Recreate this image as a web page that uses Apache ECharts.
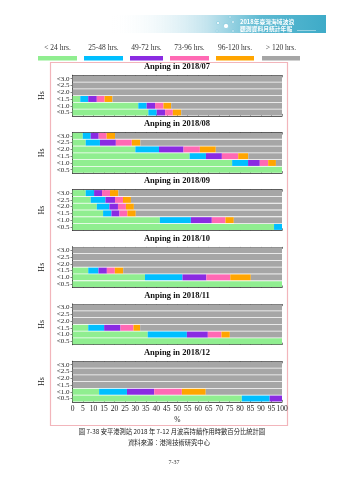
<!DOCTYPE html>
<html><head><meta charset="utf-8">
<script src="https://cdn.jsdelivr.net/npm/echarts@6/dist/echarts.min.js"></script>
<style>html,body{margin:0;padding:0;background:#fff}#c{width:339px;height:480px}</style>
</head><body><div id="c"></div>
<script>
// Categories (bottom to top)
const hsCats = ['<0.5', '<1.0', '<1.5', '<2.0', '<2.5', '<3.0'];
const months = ['2018/07', '2018/08', '2018/09', '2018/10', '2018/11', '2018/12'];
const durationNames = ['< 24 hrs.', '25-48 hrs.', '49-72 hrs.', '73-96 hrs.', '96-120 hrs.', '> 120 hrs.'];
const xTicks = [0, 5, 10, 15, 20, 25, 30, 35, 40, 45, 50, 55, 60, 65, 70, 75, 80, 85, 90, 95, 100];

// Percent values per month (rows) per Hs class (bottom <0.5 ... top <3.0)
const lt24 = [
  [36.2, 31.4, 3.7, 0, 0, 0],
  [100, 76.2, 55.9, 30.0, 6.3, 4.9],
  [96.2, 41.7, 14.6, 11.6, 8.7, 6.3],
  [100, 34.6, 7.5, 0, 0, 0],
  [100, 35.9, 7.5, 0, 0, 0],
  [80.8, 12.7, 0, 0, 0, 0]
];
const h25to48 = [
  [4.0, 4.0, 3.8, 0, 0, 0],
  [0, 7.6, 7.8, 11.3, 6.8, 3.8],
  [3.8, 14.8, 4.0, 6.0, 7.0, 4.0],
  [0, 17.9, 4.9, 0, 0, 0],
  [0, 18.7, 7.6, 0, 0, 0],
  [13.3, 13.3, 0, 0, 0, 0]
];
const h49to72 = [
  [4.0, 4.0, 4.1, 0, 0, 0],
  [0, 5.6, 7.6, 11.7, 7.6, 3.8],
  [0, 10.0, 3.8, 4.1, 4.6, 3.8],
  [0, 11.4, 4.0, 0, 0, 0],
  [0, 10.0, 7.8, 0, 0, 0],
  [5.9, 13.0, 0, 0, 0, 0]
];
const h73to96 = [
  [3.7, 4.0, 3.7, 0, 0, 0],
  [0, 4.0, 7.8, 7.8, 7.6, 3.8],
  [0, 6.5, 3.8, 3.8, 3.8, 3.8],
  [0, 11.4, 3.8, 0, 0, 0],
  [0, 6.5, 6.2, 0, 0, 0],
  [0, 13.2, 0, 0, 0, 0]
];
const h96to120 = [
  [4.0, 3.7, 3.8, 0, 0, 0],
  [0, 3.7, 4.8, 7.6, 4.1, 4.0],
  [0, 4.0, 4.0, 3.8, 3.8, 4.0],
  [0, 9.8, 4.0, 0, 0, 0],
  [0, 4.0, 3.2, 0, 0, 0],
  [0, 11.4, 0, 0, 0, 0]
];
const gt120 = [
  [48.1, 52.9, 80.9, 100, 100, 100],
  [0, 2.9, 16.1, 31.6, 67.6, 79.7],
  [0, 23.0, 69.8, 70.7, 72.1, 78.1],
  [0, 14.9, 75.8, 100, 100, 100],
  [0, 24.9, 67.7, 100, 100, 100],
  [0, 36.4, 100, 100, 100, 100]
];

const seriesData = [lt24, h25to48, h49to72, h73to96, h96to120, gt120];
const colors = ['#90ee90', '#00bfff', '#8a2be2', '#ff69b4', '#ffa500', '#a6a6a6'];

const SERIF = '"Liberation Serif","DejaVu Serif",serif';
const CJK = '"Noto Sans CJK TC","Noto Sans CJK SC",sans-serif';

const gridLeft = 72.5, gridRight = 57;
const top0 = 75.3, period = 57.2, gh = 40.6;

const grids = [], xAxes = [], yAxes = [], series = [], graphics = [];

months.forEach((m, i) => {
  const top = top0 + i * period;
  grids.push({ left: gridLeft, right: gridRight, top: top, height: gh });
  const last = i === months.length - 1;
  xAxes.push({
    type: 'value', gridIndex: i, min: 0, max: 100, interval: 5, position: 'bottom',
    axisLine: { show: true, lineStyle: { color: '#333', width: 0.8 } },
    axisTick: { show: true, inside: true, length: 2, lineStyle: { color: '#333', width: 0.6 } },
    splitLine: { show: false },
    axisLabel: { show: last, margin: 3, fontFamily: SERIF, fontSize: 7.5, color: '#222' },
    name: last ? '%' : '', nameLocation: 'middle', nameGap: 14,
    nameTextStyle: { fontFamily: SERIF, fontSize: 7.5, color: '#222' }
  });
  xAxes.push({
    type: 'value', gridIndex: i, min: 0, max: 100, interval: 5, position: 'top',
    axisLine: { show: true, lineStyle: { color: '#333', width: 0.8 } },
    axisTick: { show: true, inside: true, length: 2, lineStyle: { color: '#333', width: 0.6 } },
    splitLine: { show: false }, axisLabel: { show: false }
  });
  yAxes.push({
    type: 'category', gridIndex: i, data: hsCats, position: 'left',
    axisLine: { show: true, lineStyle: { color: '#333', width: 0.8 } },
    axisTick: { show: true, alignWithLabel: true, interval: 0, length: 2, lineStyle: { color: '#333', width: 0.6 } },
    axisLabel: { interval: 0, margin: 3, fontFamily: SERIF, fontSize: 7, color: '#222', lineHeight: 7 },
    name: 'Hs', nameLocation: 'middle', nameRotate: 90, nameGap: 11.5,
    nameTextStyle: { fontFamily: SERIF, fontSize: 8, color: '#222' }
  });
  yAxes.push({
    type: 'category', gridIndex: i, data: hsCats, position: 'right',
    axisLine: { show: true, lineStyle: { color: '#333', width: 0.8 } },
    axisTick: { show: false }, axisLabel: { show: false }
  });
  seriesData.forEach((arr, k) => {
    series.push({
      type: 'bar', name: durationNames[k], stack: 'p' + i,
      xAxisIndex: i * 2, yAxisIndex: i * 2,
      data: arr[i], barCategoryGap: '12%',
      itemStyle: { color: colors[k] }, silent: true, animation: false
    });
  });
  graphics.push({
    type: 'text', x: 177, y: top - 8.5,
    style: { text: 'Anping in ' + m, font: 'bold 8.5px ' + SERIF, fill: '#111', textAlign: 'center', textVerticalAlign: 'middle' }
  });
});

// legend (text above colour swatch)
const legX = [38, 84, 130, 170, 216, 262];
const legW = [39, 39, 33, 39, 38, 38];
durationNames.forEach((n, k) => {
  graphics.push({ type: 'rect', shape: { x: legX[k], y: 56, width: legW[k], height: 4.5 }, style: { fill: colors[k] } });
  graphics.push({ type: 'text', x: legX[k] + legW[k] / 2, y: 48,
    style: { text: n, font: '7.5px ' + SERIF, fill: '#333', textAlign: 'center', textVerticalAlign: 'middle' } });
});

// outer frame
graphics.push({ type: 'rect', shape: { x: 50.5, y: 62.5, width: 237, height: 363 }, style: { fill: 'none', stroke: '#f2b5bb', lineWidth: 1.2 }, z: -1 });

// header band
graphics.push({ type: 'rect', shape: { x: 110, y: 15, width: 216, height: 18 },
  style: { fill: new echarts.graphic.LinearGradient(0, 0, 1, 0, [
    { offset: 0, color: 'rgba(255,255,255,0)' }, { offset: 0.45, color: '#c3e4ee' }, { offset: 0.7, color: '#5dbad2' }, { offset: 1, color: '#3eabc8' }]) }, z: -2 });
[[218, 23, 1.5], [226, 26, 2.6], [233, 22, 1.2], [230, 17, 1], [217, 31, 1], [233, 31, 1]].forEach(c => {
  graphics.push({ type: 'circle', shape: { cx: c[0], cy: c[1], r: c[2] }, style: { fill: '#ffffff', stroke: '#6bbfd6', lineWidth: 0.5 } });
});
graphics.push({ type: 'text', x: 240, y: 22, style: { text: '2018年臺灣海域波浪', font: 'bold 5.8px ' + CJK, fill: '#fff', textVerticalAlign: 'middle' } });
graphics.push({ type: 'text', x: 240, y: 29, style: { text: '觀測資料月統計年報', font: 'bold 5.8px ' + CJK, fill: '#fff', textVerticalAlign: 'middle' } });
graphics.push({ type: 'line', shape: { x1: 297, y1: 30.5, x2: 316, y2: 30.5 }, style: { stroke: '#e6f4f8', lineWidth: 0.5 } });

// captions
graphics.push({ type: 'text', x: 172, y: 432, style: { text: '圖 7-38 安平港測站 2018 年 7-12 月波高持續作用時數百分比統計圖', font: '6.3px ' + CJK, fill: '#222', textAlign: 'center', textVerticalAlign: 'middle' } });
graphics.push({ type: 'text', x: 169, y: 443, style: { text: '資料來源：港灣技術研究中心', font: '6.3px ' + CJK, fill: '#222', textAlign: 'center', textVerticalAlign: 'middle' } });
graphics.push({ type: 'text', x: 174, y: 462, style: { text: '7-37', font: '6px ' + SERIF, fill: '#333', textAlign: 'center', textVerticalAlign: 'middle' } });

const chart = echarts.init(document.getElementById('c'), null, { renderer: 'canvas' });
chart.setOption({
  animation: false,
  grid: grids, xAxis: xAxes, yAxis: yAxes, series: series,
  graphic: graphics
});
</script></body></html>
